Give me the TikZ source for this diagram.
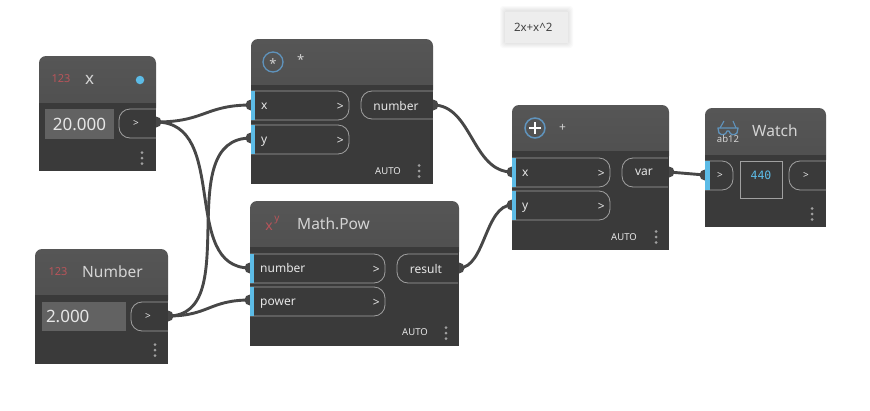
\documentclass[tikz,border=0pt]{standalone}
\usepackage{fontspec}
\setmainfont{Noto Sans}
\newfontfamily\valuemono{DejaVu Sans Mono}
\definecolor{bodyc}{HTML}{3A3A3A}
\definecolor{headc}{HTML}{565656}
\definecolor{headd}{HTML}{4F4F4F}
\definecolor{wirec}{HTML}{474747}
\definecolor{bluec}{HTML}{5CBBE6}
\definecolor{portc}{HTML}{A0A0A0}
\definecolor{txtc}{HTML}{E6E6E6}
\definecolor{titlec}{HTML}{D4D4D4}
\definecolor{redc}{HTML}{B8545A}
\definecolor{ringc}{HTML}{5F93BC}
\definecolor{boxc}{HTML}{626262}
\tikzset{
  wire/.style={draw=wirec,line width=2.9pt,line cap=round},
  pin/.style={circle,fill=wirec,inner sep=0pt,minimum size=11pt},
  title/.style={text=titlec,font=\fontsize{15.5}{18}\selectfont,inner sep=0pt,anchor=west},
  plabel/.style={text=txtc,font=\fontsize{12}{14}\selectfont,inner sep=0pt},
  auto label/.style={text=txtc,font=\fontsize{9.5}{11}\selectfont,inner sep=0pt},
  portline/.style={draw=portc,line width=0.8pt},
  dot/.style={circle,fill=portc,inner sep=0pt,minimum size=3pt},
  icon/.style={text=redc,font=\fontsize{11}{13}\selectfont,inner sep=0pt},
  ring/.style={circle,draw=ringc,line width=1.3pt,inner sep=0pt,minimum size=20pt,text=white},
  valbox/.style={fill=boxc,inner sep=0pt,text=txtc,font=\fontsize{17}{20}\selectfont},
  tip/.style={fill=black!7,inner sep=0pt,minimum width=63pt,minimum height=31pt,text=black!75,
    font=\fontsize{11.5}{13}\selectfont,text width=45pt,align=left}
}
% card: name x1 y1 x2 y2 yheader
\newcommand{\dcard}[6]{%
  \fill[bodyc] (#2,#6) rectangle (#4,#5);
  \shade[top color=headc,bottom color=headd,rounded corners=7pt] (#2,#6+12) -- (#2,#3) -- (#4,#3) -- (#4,#6+12) -- cycle;
  \fill[bodyc] (#2,#6) rectangle (#4,#6+13);
  \coordinate (#1) at (#2,#3);
}
% input port: name x1 y1 x2 y2 label
\newcommand{\inport}[6]{%
  \draw[portline,rounded corners=11pt] (#2,#3) -- (#4,#3) -- (#4,#5) -- (#2,#5);
  \fill[bluec] (#2,#3) rectangle (#2+4,#5);
  \node[plabel,anchor=base west] (#1) at (#2+10,#3+18) {#6};
  \node[plabel,anchor=base east] (#1arrow) at (#4-5,#3+19) {>};
}
% output port: name x1 y1 x2 y2 label-centre-x label
\newcommand{\outport}[7]{%
  \draw[portline,rounded corners=11pt] (#5,#3) -- (#2,#3) -- (#2,#4) -- (#5,#4);
  \node[plabel] (#1) at (#6,#3+14.5) {#7};
}
\newcommand{\dmenu}[3]{%
  \node[dot] (#1a) at (#2,#3-5.5) {};
  \node[dot] (#1b) at (#2,#3) {};
  \node[dot] (#1c) at (#2,#3+5.5) {};
}
\newcommand{\smallgt}{{\fontsize{10}{12}\selectfont >}}
\begin{document}
\begin{tikzpicture}[x=1pt,y=-1pt]
\useasboundingbox (0,0) rectangle (870,410);
\fill[white] (0,0) rectangle (870,410);

% tooltip
\foreach \s in {5,4,3,2,1}
  \fill[black,opacity=.018,rounded corners=3pt] (505-\s,11-\s) rectangle (568+\s,43+\s);
\node[tip] (tooltip) at (536.5,27) {2x+x\^{}2};

% pins
\node[pin] (xout) at (156,122) {};
\node[pin] (nout) at (168,316) {};
\node[pin] (mx) at (251,105) {};
\node[pin] (my) at (251,138) {};
\node[pin] (pn) at (250,268) {};
\node[pin] (pp) at (250,300) {};
\node[pin] (mout) at (433,105) {};
\node[pin] (pout) at (459,268) {};
\node[pin] (ax) at (512,172) {};
\node[pin] (ay) at (512,205) {};
\node[pin] (aout) at (669,172) {};
\node[pin] (win) at (705,175) {};

% wires
\draw[wire] (xout.center) .. controls (205,122) and (205,105) .. (mx.center);
\draw[wire] (xout.center) .. controls (230,122) and (180,268) .. (pn.center);
\draw[wire] (nout.center) .. controls (245,316) and (170,138) .. (my.center);
\draw[wire] (nout.center) .. controls (209,316) and (209,300) .. (pp.center);
\draw[wire] (mout.center) .. controls (472,105) and (472,172) .. (ax.center);
\draw[wire] (pout.center) .. controls (485,268) and (485,205) .. (ay.center);
\draw[wire] (aout.center) -- (win.center);

% x node
\dcard{cardx}{39}{56}{156}{171}{103}
\node[icon] (xicon) at (61,79) {123};
\node[title,font=\fontsize{17}{20}\selectfont] (xtitle) at (85,80) {x};
\node[circle,fill=bluec,inner sep=0pt,minimum size=8.5pt] (xdot) at (140,80) {};
\node[valbox,minimum width=69pt,minimum height=30pt] (xval) at (79.5,124) {20.000};
\outport{xo}{119}{109}{138}{156}{136}{\smallgt}
\dmenu{xm}{142}{158}

% Number node
\dcard{cardn}{35}{249}{168}{364}{295}
\node[icon] (nicon) at (58,272) {123};
\node[title] (ntitle) at (82,272) {Number};
\node[valbox,minimum width=84pt,minimum height=29pt,align=left,text width=76pt] (nval) at (84,316.5) {2.000};
\outport{no}{131}{302}{331}{168}{148}{\smallgt}
\dmenu{nm}{155}{350}

% Multiply node
\dcard{cardm}{251}{39}{433}{184}{85}
\node[ring] (mring) at (273,62) {};
\node[text=titlec,font=\fontsize{13}{13}\selectfont,inner sep=0pt] (mstar) at (273,64) {*};
\node[title,font=\fontsize{13}{15}\selectfont] (mtitle) at (297,60) {*};
\inport{mix}{251}{91}{349}{120}{x}
\inport{miy}{251}{125}{349}{154}{y}
\outport{mo}{361}{91}{119}{433}{396}{number}
\node[auto label] (mauto) at (388,171) {AUTO};
\dmenu{mm}{419}{171}

% Math.Pow node
\dcard{cardp}{250}{201}{459}{346}{247}
\node[icon,font=\fontsize{14}{15}\selectfont] (picon) at (269,227) {x};
\node[icon,font=\fontsize{10}{12}\selectfont] (picon2) at (277,220) {y};
\node[title] (ptitle) at (297,224) {Math.Pow};
\inport{pin1}{250}{254}{385}{283}{number}
\inport{pin2}{250}{287}{385}{316}{power}
\outport{po}{397}{254}{283}{458}{426}{result}
\node[auto label] (pauto) at (415,332) {AUTO};
\dmenu{pm}{446}{333}

% Add node
\dcard{carda}{512}{105}{669}{250}{151}
\node[ring,line width=1.5pt] (aring) at (535,128) {};
\draw[white,line width=2pt] (529,128) -- (541,128) (535,122) -- (535,134);
\node[title,font=\fontsize{12}{14}\selectfont] (atitle) at (559,128) {+};
\inport{aix}{512}{158}{610}{187}{x}
\inport{aiy}{512}{191}{610}{220}{y}
\outport{ao}{622}{158}{187}{668}{644}{var}
\node[auto label] (aauto) at (624,237) {AUTO};
\dmenu{am}{656}{237}

% Watch node
\dcard{cardw}{705}{108}{826}{227}{155}
\draw[ringc,line width=1.3pt,line join=round] (718,128) -- (738,128) -- (737,133) .. controls (734,136) and (730,135) .. (729,131) -- (727,131) .. controls (726,135) and (722,136) .. (719,133) -- cycle;
\draw[ringc,line width=1.1pt] (720,128) -- (724,121) (736,128) -- (733,121);
\node[text=titlec,font=\bfseries\fontsize{9.5}{11}\selectfont,inner sep=0pt] (wicon) at (728,139) {ab12};
\node[title] (wtitle) at (752,131) {Watch};
\draw[portline,rounded corners=11pt] (705,161) -- (733,161) -- (733,190) -- (705,190);
\fill[bluec] (705,161) rectangle (710,190);
\node[plabel] (wi) at (720,175) {\smallgt};
\node[draw=portc,line width=0.8pt,minimum width=42pt,minimum height=37pt,inner sep=0pt] (wbox) at (761,179.5) {};
\node[text=bluec,font=\valuemono\fontsize{11.5}{13}\selectfont,inner sep=0pt] (wval) at (761,175) {440};
\outport{wo}{789}{161}{190}{826}{806}{\smallgt}
\dmenu{wm}{812}{214}
\end{tikzpicture}
\end{document}
